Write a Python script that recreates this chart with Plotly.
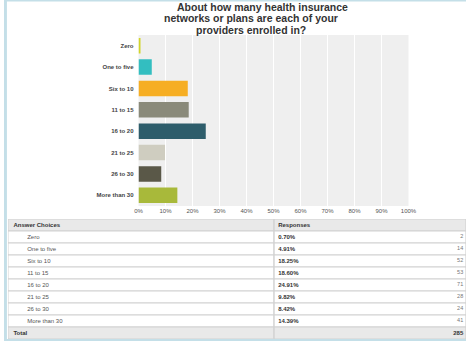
import plotly.graph_objects as go

# ---------------- data ----------------
choices = ["Zero", "One to five", "Six to 10", "11 to 15", "16 to 20",
           "21 to 25", "26 to 30", "More than 30"]
pct = [0.70, 4.91, 18.25, 18.60, 24.91, 9.82, 8.42, 14.39]
counts = [2, 14, 52, 53, 71, 28, 24, 41]
total = 285
bar_colors = ["#d2d52a", "#33bec0", "#f6ae23", "#8a8a7a", "#2e5d6b",
              "#cfcdc0", "#5a5848", "#a8b93a"]
x_ticks = [0, 10, 20, 30, 40, 50, 60, 70, 80, 90, 100]
title_lines = ["About how many health insurance",
               "networks or plans are each of your",
               "providers enrolled in?"]
header_labels = ["Answer Choices", "Responses"]
total_label = "Total"

# ---------------- layout constants ----------------
W, H = 474, 341
FONT = "Liberation Sans, Arial, sans-serif"
pct_labels = [f"{p:.2f}%" for p in pct]
row_keys = [header_labels[0]] + choices + [total_label]
split_x = 0.581            # column divider (table axis units)
hdr_x, col1_x, col2_x, col3_x = 0.012, 0.042, 0.590, 0.994
row_fill = ["#e9e9e9"] + ["#ffffff"] * len(choices) + ["#e9e9e9"]

fig = go.Figure()

# main bar chart
fig.add_trace(go.Bar(
    x=pct, y=choices, orientation="h", width=0.72,
    marker=dict(color=bar_colors, line=dict(width=0)),
    hoverinfo="skip", showlegend=False, xaxis="x", yaxis="y"))

# table cells (row backgrounds with borders)
n = len(row_keys)
fig.add_trace(go.Bar(
    y=row_keys + row_keys, x=[split_x] * n + [1 - split_x] * n,
    base=[0] * n + [split_x] * n, orientation="h", width=1,
    marker=dict(color=row_fill + row_fill, line=dict(color="#d2d2d2", width=1.2)),
    hoverinfo="skip", showlegend=False, xaxis="x2", yaxis="y2"))

# table text
fig.add_trace(go.Scatter(
    x=[col1_x] * len(choices), y=choices, text=choices, mode="text",
    textposition="middle right",
    textfont=dict(family=FONT, size=6, color="#555555"),
    hoverinfo="skip", showlegend=False, xaxis="x2", yaxis="y2"))
fig.add_trace(go.Scatter(
    x=[col2_x] * len(choices), y=choices, text=pct_labels, mode="text",
    textposition="middle right",
    textfont=dict(family=FONT, size=6, color="#333333", weight="bold"),
    hoverinfo="skip", showlegend=False, xaxis="x2", yaxis="y2"))
fig.add_trace(go.Scatter(
    x=[col3_x] * len(choices), y=choices, text=[str(c) for c in counts],
    mode="text", textposition="middle left",
    textfont=dict(family=FONT, size=5.5, color="#777777"),
    hoverinfo="skip", showlegend=False, xaxis="x2", yaxis="y2"))
fig.add_trace(go.Scatter(
    x=[hdr_x, col2_x, hdr_x, col3_x],
    y=[header_labels[0], header_labels[0], total_label, total_label],
    text=[header_labels[0], header_labels[1], total_label, str(total)],
    mode="text",
    textposition=["middle right", "middle right", "middle right", "middle left"],
    textfont=dict(family=FONT, size=6, color="#333333", weight="bold"),
    hoverinfo="skip", showlegend=False, xaxis="x2", yaxis="y2"))

# title lines
title_x = [265 / W, 253 / W, 253 / W]
title_y = [1 - 7.5 / H, 1 - 18.5 / H, 1 - 29.5 / H]
annotations = []
for t, tx, ty in zip(title_lines, title_x, title_y):
    annotations.append(dict(
        text=t, x=tx, y=ty, xref="paper", yref="paper",
        xanchor="center", yanchor="middle", showarrow=False,
        font=dict(family=FONT, size=10.5, color="#333333", weight="bold")))

# light blue frame
frame = "#c4dfe8"
shapes = [
    dict(type="rect", xref="paper", yref="paper", x0=0, x1=3 / W, y0=0, y1=1,
         fillcolor=frame, line=dict(width=0), layer="above"),
    dict(type="rect", xref="paper", yref="paper", x0=0, x1=1, y0=1 - 1.5 / H, y1=1,
         fillcolor=frame, line=dict(width=0), layer="above"),
    dict(type="rect", xref="paper", yref="paper", x0=0, x1=1, y0=0, y1=2 / H,
         fillcolor=frame, line=dict(width=0), layer="above"),
]

fig.update_layout(
    width=W, height=H,
    margin=dict(l=0, r=0, t=0, b=0),
    paper_bgcolor="#ffffff", plot_bgcolor="#efefef",
    barmode="overlay",
    annotations=annotations, shapes=shapes,
    xaxis=dict(domain=[138 / W, 415 / W], range=[0, 100], tickvals=x_ticks,
               ticktext=[f"{v}%" for v in x_ticks], showgrid=True,
               gridcolor="#ffffff", gridwidth=1, zeroline=False, showline=False,
               ticks="", tickfont=dict(family=FONT, size=6, color="#555555"),
               fixedrange=True, anchor="y"),
    yaxis=dict(domain=[1 - 206 / H, 1 - 35 / H], autorange="reversed",
               type="category", categoryorder="array", categoryarray=choices,
               showgrid=False, zeroline=False, showline=False, ticks="",
               ticklabelstandoff=4,
               tickfont=dict(family=FONT, size=6, color="#444444", weight="bold"),
               fixedrange=True, anchor="x"),
    xaxis2=dict(domain=[4 / W, 1], range=[0, 1], visible=False,
                fixedrange=True, anchor="y2"),
    yaxis2=dict(domain=[2 / H, 1 - 219 / H], type="category",
                categoryorder="array", categoryarray=row_keys,
                autorange="reversed", visible=False, fixedrange=True,
                anchor="x2"),
)

fig.write_html("out.html")
